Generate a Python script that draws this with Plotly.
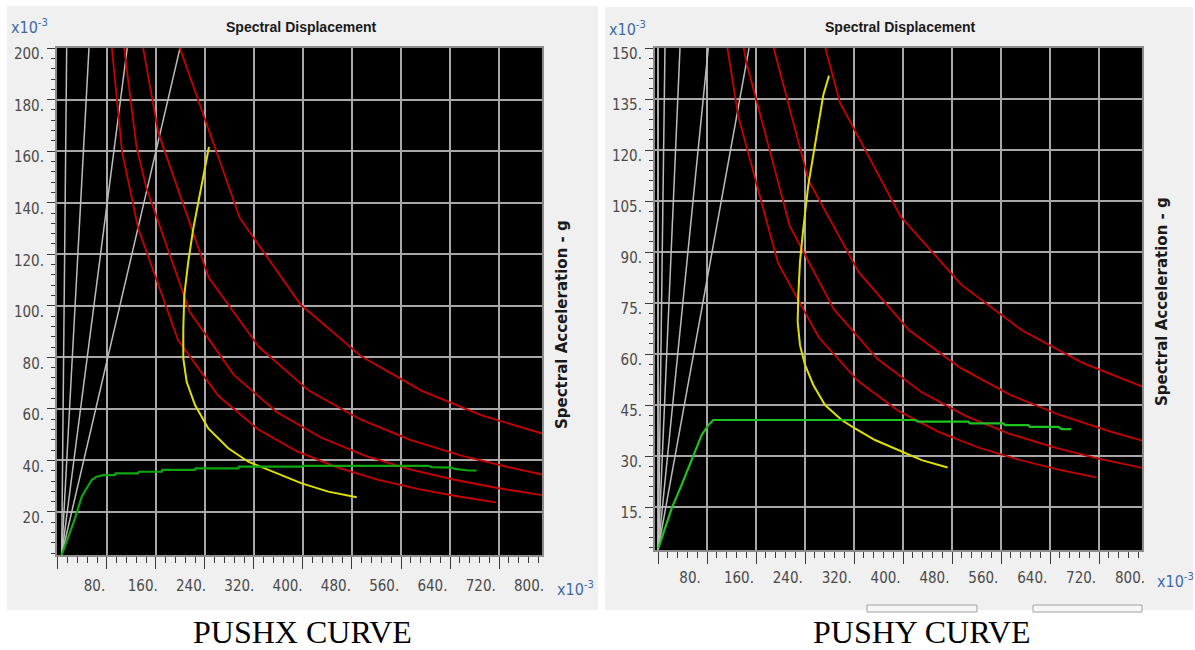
import plotly.graph_objects as go

W, H = 1195, 650

# ---------------- axis ticks (values in x10^-3) ----------------
x_tick_vals = [80, 160, 240, 320, 400, 480, 560, 640, 720, 800]
y_ticks_pushx = [20, 40, 60, 80, 100, 120, 140, 160, 180, 200]
y_ticks_pushy = [15, 30, 45, 60, 75, 90, 105, 120, 135, 150]

# ---------------- demand spectra (Sd, Sa), four damping levels ----------------
dem_a_x = [199, 297, 396, 495, 594, 693, 792]
dem_a_y = [200, 134, 100.5, 80.4, 67, 57.4, 50.3]
dem_b_x = [139, 164, 246, 328, 410, 493, 575, 657, 739, 791]
dem_b_y = [200, 167, 111, 84, 67, 56, 48, 42, 37.2, 34.5]
dem_c_x = [108, 128, 144, 215, 287, 358, 430, 502, 573, 645, 717, 791]
dem_c_y = [200, 162, 146, 97.7, 73.2, 58.6, 48.8, 41.8, 36.6, 32.6, 29.3, 26.5]
dem_d_x = [88, 104.5, 131, 196, 262, 327, 392, 458, 523, 589, 654, 715]
dem_d_y = [200, 160, 130, 86.7, 65, 52, 43.3, 37.1, 32.5, 28.9, 26, 23.7]

# ---------------- constant-period lines (origin -> top edge) ----------------
per_origin_pushx = [6.0, 3.3]
per_top_x_pushx = [14.2, 50.6, 113.0, 199.2]
per_top_y_pushx = 200
per_origin_pushy = [0.5, 2.8]
per_top_x_pushy = [11.4, 35.9, 82.1, 148.6]
per_top_y_pushy = 150

# ---------------- PUSHX: capacity curve and demand point path ----------------
cap_x_pushx = [6, 27.8, 38.7, 49.5, 55, 63.1, 74, 93, 94.1, 131, 132, 169.3, 170.3, 223.7, 224.8,
               294.4, 295.5, 397.8, 398.9, 604.6, 610, 642.7, 648.2, 670, 683.5]
cap_y_pushx = [3.3, 17.5, 25.9, 30.4, 32.4, 33.7, 34.3, 34.3, 35.0, 35.0, 35.6, 35.6, 36.3, 36.3, 36.9,
               36.9, 37.6, 37.6, 37.9, 37.9, 37.4, 37.2, 36.7, 36.1, 36.1]
perf_x_pushx = [246.5, 234.6, 220.9, 212.7, 206.2, 204.6, 204.6, 210.1, 223.7, 245.4, 278.0, 310.7,
                343.3, 397.9, 441.3, 487.7]
perf_y_pushx = [161.7, 146.8, 130.0, 117.1, 104.1, 91.2, 79.6, 70.5, 61.5, 52.4, 44.7, 39.5,
                36.3, 31.1, 27.9, 25.7]

# ---------------- PUSHY: capacity curve and demand point path ----------------
cap_x_pushy = [0.5, 22.3, 38.6, 57.7, 71.3, 82.2, 90.3, 419.6, 425, 506.7, 509.4, 563.8, 566.5,
               604.6, 607.3, 653.6, 659, 674.3]
cap_y_pushy = [2.8, 14.6, 21.5, 30.3, 36.2, 39.1, 40.6, 40.6, 40.1, 40.1, 39.6, 39.6, 39.1,
               39.1, 38.6, 38.6, 37.9, 37.9]
perf_x_pushy = [279.2, 269.9, 256.3, 245.4, 237.3, 231.8, 229.1, 228.0, 231.8, 240.0, 253.6, 272.7,
                299.9, 321.6, 354.3, 397.8, 430.5, 472.9]
perf_y_pushy = [141.9, 136.2, 121.5, 109.7, 97.0, 87.2, 77.4, 69.5, 62.6, 56.8, 50.9, 45.0,
                40.6, 38.1, 34.7, 31.3, 28.8, 26.6]

RED = "#c80000"
GREY_LINE = "#bcbcbc"
YELLOW = "#e0e000"
GREEN_X = "#0ea60e"
GREEN_Y = "#1ec41e"
TICK_FONT = dict(family="DejaVu Sans Condensed, Liberation Sans Narrow, sans-serif",
                 size=15, color="#4a4a4a")

fig = go.Figure()


def add_panel(xa, ya, origin, top_xs, top_y, cap_x, cap_y, perf_x, perf_y, green):
    for tx in top_xs:
        fig.add_trace(go.Scatter(x=[origin[0], tx], y=[origin[1], top_y], mode="lines",
                                 line=dict(color=GREY_LINE, width=1.5), xaxis=xa, yaxis=ya,
                                 showlegend=False, hoverinfo="skip"))
    for dx, dy in [(dem_a_x, dem_a_y), (dem_b_x, dem_b_y), (dem_c_x, dem_c_y), (dem_d_x, dem_d_y)]:
        fig.add_trace(go.Scatter(x=dx, y=dy, mode="lines", line=dict(color=RED, width=1.8),
                                 xaxis=xa, yaxis=ya, showlegend=False, hoverinfo="skip"))
    fig.add_trace(go.Scatter(x=perf_x, y=perf_y, mode="lines", line=dict(color=YELLOW, width=2),
                             xaxis=xa, yaxis=ya, showlegend=False, hoverinfo="skip"))
    fig.add_trace(go.Scatter(x=cap_x, y=cap_y, mode="lines", line=dict(color=green, width=2.2),
                             xaxis=xa, yaxis=ya, showlegend=False, hoverinfo="skip"))


add_panel("x", "y", per_origin_pushx, per_top_x_pushx, per_top_y_pushx,
          cap_x_pushx, cap_y_pushx, perf_x_pushx, perf_y_pushx, GREEN_X)
add_panel("x2", "y2", per_origin_pushy, per_top_x_pushy, per_top_y_pushy,
          cap_x_pushy, cap_y_pushy, perf_x_pushy, perf_y_pushy, GREEN_Y)

# empty traces so the label-only axes get drawn
fig.add_trace(go.Scatter(x=[None], y=[None], xaxis="x3", yaxis="y", showlegend=False, hoverinfo="skip"))
fig.add_trace(go.Scatter(x=[None], y=[None], xaxis="x4", yaxis="y2", showlegend=False, hoverinfo="skip"))


def data_xaxis(domain, rng, anchor):
    return dict(domain=domain, range=rng, anchor=anchor, tickmode="linear", tick0=0, dtick=80,
                showticklabels=False, ticks="outside", ticklen=12, tickwidth=1, tickcolor="#3a3a3a",
                minor=dict(ticks="outside", dtick=16, tick0=0, ticklen=6, tickwidth=1,
                           tickcolor="#3a3a3a", showgrid=False),
                showgrid=True, gridcolor="#a8a8a8", gridwidth=2,
                showline=True, linecolor="#8c8c8c", linewidth=2, mirror=True, zeroline=False,
                automargin=False, fixedrange=True)


def label_xaxis(over, anchor, rng, standoff):
    return dict(overlaying=over, anchor=anchor, range=rng, tickmode="array",
                tickvals=x_tick_vals, ticktext=[f"{v}." for v in x_tick_vals],
                showgrid=False, ticks="", showline=False, zeroline=False,
                tickfont=TICK_FONT, ticklabelstandoff=standoff, automargin=False, fixedrange=True)


def data_yaxis(domain, rng, anchor, step, minor_step):
    return dict(domain=domain, range=rng, anchor=anchor, tickmode="linear", tick0=0, dtick=step,
                ticksuffix=".", tickfont=TICK_FONT, ticks="outside", ticklen=8, tickwidth=1,
                tickcolor="#3a3a3a", ticklabelshift=6,
                minor=dict(ticks="outside", dtick=minor_step, tick0=0, ticklen=4, tickwidth=1,
                           tickcolor="#3a3a3a", showgrid=False),
                showgrid=True, gridcolor="#a8a8a8", gridwidth=2,
                showline=True, linecolor="#8c8c8c", linewidth=2, mirror=True, zeroline=False,
                automargin=False, fixedrange=True)


left_dom_x = [57 / W, 542 / W]
right_dom_x = [655 / W, 1142 / W]
left_dom_y = [(H - 555) / H, (H - 48) / H]
right_dom_y = [(H - 550) / H, (H - 48) / H]

fig.update_layout(
    width=W, height=H,
    autosize=False,
    margin=dict(l=0, r=0, t=0, b=0, pad=0, autoexpand=False),
    paper_bgcolor="white",
    plot_bgcolor="black",
    showlegend=False,
    xaxis=data_xaxis(left_dom_x, [-1.6, 790.2], "y"),
    yaxis=data_yaxis(left_dom_y, [3.3, 200.05], "x", 20, 4),
    xaxis2=data_xaxis(right_dom_x, [-4.9, 790.2], "y2"),
    yaxis2=data_yaxis(right_dom_y, [2.35, 150.03], "x2", 15, 3),
    xaxis3=label_xaxis("x", "y", [17.9, 821.5], 20),
    xaxis4=label_xaxis("x2", "y2", [22.7, 819.6], 17),
)

# window panels and plot faces
shapes = [
    dict(type="rect", xref="paper", yref="paper", x0=7 / W, x1=598 / W, y0=1 - 610 / H, y1=1 - 6 / H,
         fillcolor="#f0f0f0", line=dict(width=0), layer="below"),
    dict(type="rect", xref="paper", yref="paper", x0=605 / W, x1=1193 / W, y0=1 - 610 / H, y1=1 - 7 / H,
         fillcolor="#f0f0f0", line=dict(width=0), layer="below"),
    dict(type="rect", xref="x domain", yref="y domain", x0=0, x1=1, y0=0, y1=1,
         fillcolor="black", line=dict(width=0), layer="below"),
    dict(type="rect", xref="x2 domain", yref="y2 domain", x0=0, x1=1, y0=0, y1=1,
         fillcolor="black", line=dict(width=0), layer="below"),
    dict(type="rect", xref="paper", yref="paper", x0=867 / W, x1=977 / W, y0=1 - 612 / H, y1=1 - 605 / H,
         fillcolor="#f7f7f7", line=dict(width=1, color="#a0a0a0"), layer="below"),
    dict(type="rect", xref="paper", yref="paper", x0=1033 / W, x1=1142 / W, y0=1 - 612 / H, y1=1 - 605 / H,
         fillcolor="#f7f7f7", line=dict(width=1, color="#a0a0a0"), layer="below"),
]
fig.update_layout(shapes=shapes)

TITLE_FONT = dict(family="Liberation Sans, Arial, sans-serif", size=14, color="#1a1a1a")
VLABEL_FONT = dict(family="DejaVu Sans, sans-serif", size=15, color="#1a1a1a")
EXP_FONT = dict(family="DejaVu Sans Condensed, Liberation Sans Narrow, sans-serif", size=16, color="#3c6aa8")
CAP_FONT = dict(family="Liberation Serif, Times New Roman, serif", size=32, color="black")


def ann(px, py, text, font, xanchor="center", yanchor="middle", angle=0):
    return dict(x=px / W, y=1 - py / H, xref="paper", yref="paper", text=text, showarrow=False,
                font=font, xanchor=xanchor, yanchor=yanchor, textangle=angle)


annotations = [
    ann(301, 27, "<b>Spectral Displacement</b>", TITLE_FONT),
    ann(900, 27, "<b>Spectral Displacement</b>", TITLE_FONT),
    ann(562, 325, "<b>Spectral Acceleration - g</b>", VLABEL_FONT, angle=-90),
    ann(1162, 302, "<b>Spectral Acceleration - g</b>", VLABEL_FONT, angle=-90),
    ann(9, 26, "x10<sup>-3</sup>", EXP_FONT, xanchor="left"),
    ann(607, 28, "x10<sup>-3</sup>", EXP_FONT, xanchor="left"),
    ann(555, 588, "x10<sup>-3</sup>", EXP_FONT, xanchor="left"),
    ann(1155, 580, "x10<sup>-3</sup>", EXP_FONT, xanchor="left"),
    ann(303, 632, "PUSHX CURVE", CAP_FONT),
    ann(922, 632, "PUSHY CURVE", CAP_FONT),
]
fig.update_layout(annotations=annotations)

fig.write_html("out.html")
